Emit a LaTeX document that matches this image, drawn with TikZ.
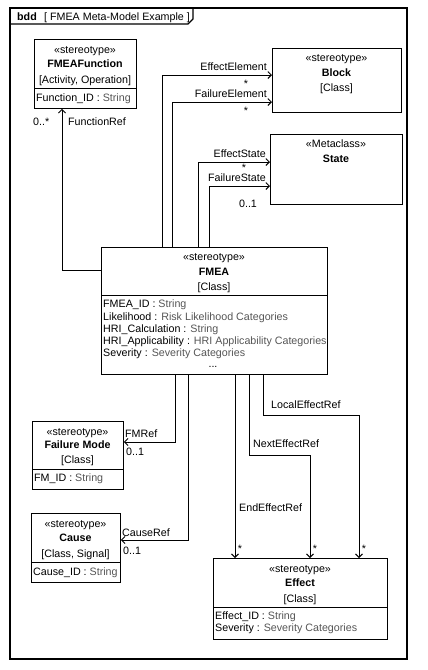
\documentclass[tikz,border=0pt]{standalone}
\usepackage{fontspec}
\setmainfont{Liberation Sans}
\usetikzlibrary{arrows.meta}
\definecolor{typegray}{RGB}{85,85,85}
\tikzset{
  every node/.style={font=\fontsize{10.7}{12.3}\selectfont, inner sep=0pt},
  umlbox/.style={draw, line width=0.9pt, rectangle, inner sep=0pt, anchor=north west},
  txt/.style={anchor=base},
  attr/.style={anchor=base west},
  lbl/.style={anchor=base west},
  lble/.style={anchor=base east},
  assoc/.style={line width=0.9pt, -{Straight Barb[length=3.5pt,width=7pt]}},
  divider/.style={line width=0.9pt}
}
\newcommand{\ty}[1]{\textcolor{typegray}{#1}}
\begin{document}
\begin{tikzpicture}[x=1pt,y=-1pt]
\useasboundingbox (0,0) rectangle (428,670);
% frame
\draw[line width=1.2pt] (10,8) rectangle (407,659);
\draw[line width=1.2pt] (10,24) -- (188,24) -- (193,19) -- (193,8);
\node[lbl] (ttl1) at (17,20) {\textbf{bdd}};
\node[lbl] (ttl2) at (44,20) {[ FMEA Meta-Model Example ]};

% boxes
\node[umlbox, minimum width=102pt, minimum height=69pt] (ff) at (34,39) {};
\node[umlbox, minimum width=129pt, minimum height=64pt] (block) at (272,48) {};
\node[umlbox, minimum width=132pt, minimum height=70pt] (state) at (270,134) {};
\node[umlbox, minimum width=226pt, minimum height=127pt] (fmea) at (101,247) {};
\node[umlbox, minimum width=91pt, minimum height=68pt] (fm) at (32,421) {};
\node[umlbox, minimum width=89pt, minimum height=69pt] (cause) at (31,513) {};
\node[umlbox, minimum width=174pt, minimum height=81pt] (effect) at (213,558) {};

% dividers
\draw[divider] ([yshift=-49pt]ff.north west) -- ([yshift=-49pt]ff.north east);
\draw[divider] ([yshift=-48pt]fmea.north west) -- ([yshift=-48pt]fmea.north east);
\draw[divider] ([yshift=-48pt]fm.north west) -- ([yshift=-48pt]fm.north east);
\draw[divider] ([yshift=-49pt]cause.north west) -- ([yshift=-49pt]cause.north east);
\draw[divider] ([yshift=-49pt]effect.north west) -- ([yshift=-49pt]effect.north east);

% FMEAFunction
\node[txt] (ff1) at (85,53) {«stereotype»};
\node[txt] (ff2) at (85,67) {\textbf{FMEAFunction}};
\node[txt] (ff3) at (85,83) {[Activity, Operation]};
\node[attr] (ff4) at (36,101) {Function\_ID : \ty{String}};

% Block
\node[txt] (b1) at (336.5,61) {«stereotype»};
\node[txt] (b2) at (336.5,76) {\textbf{Block}};
\node[txt] (b3) at (336.5,91) {[Class]};

% State
\node[txt] (s1) at (336,147) {«Metaclass»};
\node[txt] (s2) at (336,162) {\textbf{State}};

% FMEA
\node[txt] (f1) at (214,260) {«stereotype»};
\node[txt] (f2) at (214,275) {\textbf{FMEA}};
\node[txt] (f3) at (214,290) {[Class]};
\node[attr] (f4) at (103,307) {FMEA\_ID : \ty{String}};
\node[attr] (f5) at (103,320) {Likelihood : \ty{Risk Likelihood Categories}};
\node[attr] (f6) at (103,332) {HRI\_Calculation : \ty{String}};
\node[attr] (f7) at (103,344) {HRI\_Applicability : \ty{HRI Applicability Categories}};
\node[attr] (f8) at (103,356) {Severity : \ty{Severity Categories}};
\node[txt] (f9) at (213,367) {...};

% Failure Mode
\node[txt] (m1) at (77.5,435) {«stereotype»};
\node[txt] (m2) at (77.5,448) {\textbf{Failure Mode}};
\node[txt] (m3) at (77.5,463) {[Class]};
\node[attr] (m4) at (34,481) {FM\_ID : \ty{String}};

% Cause
\node[txt] (c1) at (75.5,527) {«stereotype»};
\node[txt] (c2) at (75.5,541) {\textbf{Cause}};
\node[txt] (c3) at (75.5,557) {[Class, Signal]};
\node[attr] (c4) at (33,575) {Cause\_ID : \ty{String}};

% Effect
\node[txt] (e1) at (300,572) {«stereotype»};
\node[txt] (e2) at (300,586) {\textbf{Effect}};
\node[txt] (e3) at (300,602) {[Class]};
\node[attr] (e4) at (215,619) {Effect\_ID : \ty{String}};
\node[attr] (e5) at (215,631) {Severity : \ty{Severity Categories}};

% connectors
\draw[assoc] ([xshift=61pt]fmea.north west) |- ([yshift=-27pt]block.north west);
\draw[assoc] ([xshift=71pt]fmea.north west) |- ([yshift=-54pt]block.north west);
\draw[assoc] ([xshift=97pt]fmea.north west) |- ([yshift=-28pt]state.north west);
\draw[assoc] ([xshift=108pt]fmea.north west) |- ([yshift=-52pt]state.north west);
\draw[assoc] ([yshift=-23pt]fmea.north west) -| ([xshift=28pt]ff.south west);
\draw[assoc] ([xshift=74pt]fmea.south west) |- ([yshift=-21pt]fm.north east);
\draw[assoc] ([xshift=87pt]fmea.south west) |- ([yshift=-27pt]cause.north east);
\draw[assoc] ([xshift=134pt]fmea.south west) -- ([xshift=22pt]effect.north west);
\draw[assoc] ([xshift=148pt]fmea.south west) -- ++(0,81) -| ([xshift=97pt]effect.north west);
\draw[assoc] ([xshift=162pt]fmea.south west) -- ++(0,41) -| ([xshift=146pt]effect.north west);

% connector labels
\node[lble] (l1) at (267,70) {EffectElement};
\node[txt] (l1m) at (246,87) {*};
\node[lble] (l2) at (267,97) {FailureElement};
\node[txt] (l2m) at (246,114) {*};
\node[lble] (l3) at (266,157) {EffectState};
\node[txt] (l3m) at (244,171) {*};
\node[lble] (l4) at (266,181) {FailureState};
\node[txt] (l4m) at (248,207) {0..1};
\node[lbl] (l5) at (68,125) {FunctionRef};
\node[lbl] (l5m) at (33,125) {0..*};
\node[lbl] (l6) at (125,437) {FMRef};
\node[lbl] (l6m) at (126,455) {0..1};
\node[lbl] (l7) at (122,536) {CauseRef};
\node[lbl] (l7m) at (123,554) {0..1};
\node[lbl] (l8) at (271,408) {LocalEffectRef};
\node[lbl] (l9) at (253,447) {NextEffectRef};
\node[lbl] (l10) at (239,511) {EndEffectRef};
\node[txt] (l10m) at (240,552) {*};
\node[txt] (l9m) at (315,552) {*};
\node[txt] (l8m) at (364,552) {*};
\end{tikzpicture}
\end{document}
